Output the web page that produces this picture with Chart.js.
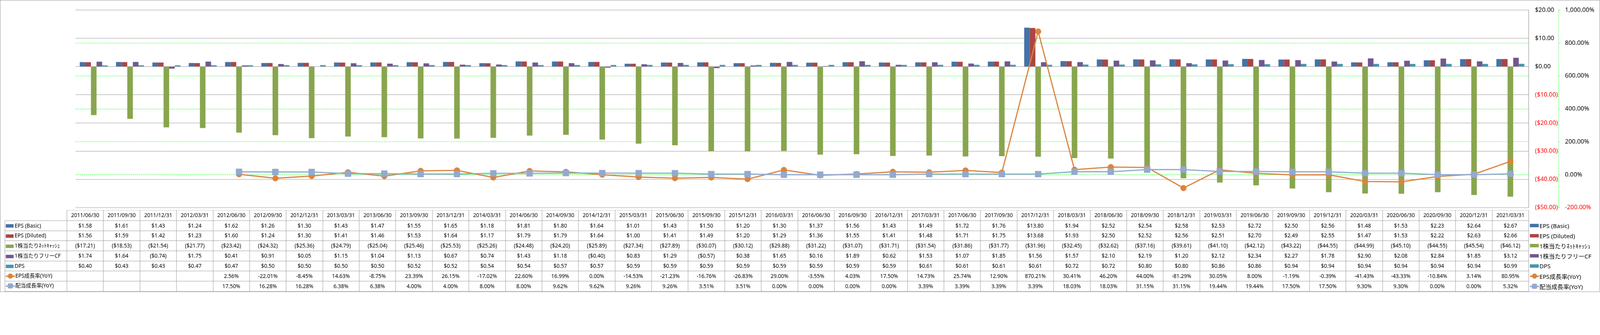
<!DOCTYPE html>
<html>
<head>
<meta charset="utf-8">
<script src="https://cdn.jsdelivr.net/npm/chart.js"></script>
<style>
  html, body { margin: 0; padding: 0; background: #fff; }
  body { overflow: hidden; font-family: "Noto Sans", "Noto Sans CJK JP", sans-serif; }
  #stage { position: absolute; left: 0; top: 0; width: 4701px; height: 858px; transform-origin: 0 0; }
  #frame { position: absolute; left: 0; top: 0; width: 4699px; height: 856px; border: 1px solid #868686; }
  #chartBox { position: absolute; left: 0; top: 0; width: 4701px; height: 640px; }
  #tbl { position: absolute; left: 14px; top: 617px; border-collapse: collapse; table-layout: fixed; font-size: 15.5px; color: #000; }
  #tbl td { border: 1px solid #8c8c8c; text-align: center; padding: 0; height: 28.7px; white-space: nowrap; overflow: hidden; line-height: 1; }
  #tbl tr.hd td { height: 30px; }
  #tbl td.lab { text-align: left; padding-left: 2px; }
  #tbl tr.hd td.lab { border-top: none; border-left: none; }
  .sw { display: inline-block; width: 23px; height: 10px; margin-right: 3px; vertical-align: middle; }
  .lk { position: relative; display: inline-block; width: 27px; height: 18px; margin-right: 1px; vertical-align: middle; }
  .lk i { position: absolute; left: 0; right: 0; top: 7px; height: 4px; }
  .lk b { position: absolute; left: 6px; top: 1px; width: 15px; height: 15px; }
  #legend { position: absolute; left: 4495px; top: 648px; font-size: 17.5px; }
  #legend div { height: 29.8px; display: flex; align-items: center; white-space: nowrap; }
  #legend .sw { width: 26px; height: 10px; margin-right: 2px; }
</style>
</head>
<body>
<div id="stage">
<div id="frame"></div>
<div id="chartBox"><canvas id="c" width="4701" height="640"></canvas></div>
<table id="tbl"></table>
<div id="legend"></div>
</div>
<script>
const quarters = ['2011/06/30','2011/09/30','2011/12/31','2012/03/31','2012/06/30','2012/09/30','2012/12/31','2013/03/31',
  '2013/06/30','2013/09/30','2013/12/31','2014/03/31','2014/06/30','2014/09/30','2014/12/31','2015/03/31',
  '2015/06/30','2015/09/30','2015/12/31','2016/03/31','2016/06/30','2016/09/30','2016/12/31','2017/03/31',
  '2017/06/30','2017/09/30','2017/12/31','2018/03/31','2018/06/30','2018/09/30','2018/12/31','2019/03/31',
  '2019/06/30','2019/09/30','2019/12/31','2020/03/31','2020/06/30','2020/09/30','2020/12/31','2021/03/31'];

const epsBasic = [1.58,1.61,1.43,1.24,1.62,1.26,1.30,1.43,1.47,1.55,1.65,1.18,1.81,1.80,1.64,1.01,
  1.43,1.50,1.20,1.30,1.37,1.56,1.43,1.49,1.72,1.76,13.80,1.94,2.52,2.54,2.58,2.53,2.72,2.50,2.56,1.48,1.53,2.23,2.64,2.67];
const epsDiluted = [1.56,1.59,1.42,1.23,1.60,1.24,1.30,1.41,1.46,1.53,1.64,1.17,1.79,1.79,1.64,1.00,
  1.41,1.49,1.20,1.29,1.36,1.55,1.41,1.48,1.71,1.75,13.68,1.93,2.50,2.52,2.56,2.51,2.70,2.49,2.55,1.47,1.53,2.22,2.63,2.66];
const netCashPerShare = [-17.21,-18.53,-21.54,-21.77,-23.42,-24.32,-25.36,-24.79,-25.04,-25.46,-25.53,-25.26,-24.48,-24.20,-25.89,-27.34,
  -27.89,-30.07,-30.12,-29.88,-31.22,-31.07,-31.71,-31.54,-31.86,-31.77,-31.96,-32.45,-32.62,-37.16,-39.61,-41.10,
  -42.12,-43.22,-44.55,-44.99,-45.10,-44.55,-45.54,-46.12];
const fcfPerShare = [1.74,1.64,-0.74,1.75,0.41,0.91,0.05,1.15,1.04,1.13,0.67,0.74,1.43,1.18,-0.40,0.83,
  1.29,-0.57,0.38,1.65,0.16,1.89,0.62,1.53,1.07,1.85,1.56,1.57,2.10,2.19,1.20,2.12,2.34,2.27,1.78,2.90,2.08,2.84,1.85,3.12];
const dps = [0.40,0.43,0.43,0.47,0.47,0.50,0.50,0.50,0.50,0.52,0.52,0.54,0.54,0.57,0.57,0.59,
  0.59,0.59,0.59,0.59,0.59,0.59,0.59,0.61,0.61,0.61,0.61,0.72,0.72,0.80,0.80,0.86,0.86,0.94,0.94,0.94,0.94,0.94,0.94,0.99];
const epsGrowth = [null,null,null,null,2.56,-22.01,-8.45,14.63,-8.75,23.39,26.15,-17.02,22.60,16.99,0.00,-14.53,
  -21.23,-16.76,-26.83,29.00,-3.55,4.03,17.50,14.73,25.74,12.90,870.21,30.41,46.20,44.00,-81.29,30.05,
  8.00,-1.19,-0.39,-41.43,-43.33,-10.84,3.14,80.95];
const divGrowth = [null,null,null,null,17.50,16.28,16.28,6.38,6.38,4.00,4.00,8.00,8.00,9.62,9.62,9.26,
  9.26,3.51,3.51,0.00,0.00,0.00,0.00,3.39,3.39,3.39,3.39,18.03,18.03,31.15,31.15,19.44,
  19.44,17.50,17.50,9.30,9.30,0.00,0.00,5.32];

const dollarTicks = { min: -50, max: 20, step: 10 };
const pctTicks = { min: -200, max: 1000, step: 200 };

const barSeries = [
  { name: 'EPS (Basic)', data: epsBasic, color: '#4572A7' },
  { name: 'EPS (Diluted)', data: epsDiluted, color: '#AA4643' },
  { name: '1株当たりﾈｯﾄｷｬｯｼｭ', data: netCashPerShare, color: '#89A54E' },
  { name: '1株当たりフリーCF', data: fcfPerShare, color: '#71588F' },
  { name: 'DPS', data: dps, color: '#4198AF' }
];
const lineSeries = [
  { name: 'EPS成長率(YoY)', data: epsGrowth, color: '#DB843D', marker: 'circle' },
  { name: '配当成長率(YoY)', data: divGrowth, color: '#93A9CF', marker: 'rect' }
];

const FONT = '"Noto Sans", "Noto Sans CJK JP", sans-serif';

// the window may be narrower than 4701, so scale the whole layout to fit
const stage = document.getElementById('stage');
const fit = Math.min(window.innerWidth / 4701, window.innerHeight / 858);
stage.style.transform = 'scale(' + fit + ')';

function fmtDollar(v) {
  const s = '$' + Math.abs(v).toFixed(2);
  return v < 0 ? '(' + s + ')' : s;
}
function fmtPct(v) {
  return v.toLocaleString('en-US', { minimumFractionDigits: 2, maximumFractionDigits: 2 }) + '%';
}

// dashed green line for the percentage axis
const pctAxisLine = {
  id: 'pctAxisLine',
  afterDraw(chart) {
    const s = chart.scales.y1;
    const c = chart.ctx;
    const x = Math.round(s.left) + 0.5;
    c.save();
    c.strokeStyle = '#00FF00';
    c.lineWidth = 1;
    c.setLineDash([4, 2]);
    c.beginPath();
    c.moveTo(x, s.top);
    c.lineTo(x, s.bottom);
    c.stroke();
    c.restore();
  }
};

const datasets = barSeries.map(s => ({
  type: 'bar', label: s.name, data: s.data, backgroundColor: s.color, yAxisID: 'y', order: 2,
  categoryPercentage: 0.77, barPercentage: 1.0, borderWidth: 0
}));
lineSeries.forEach((s, i) => {
  datasets.push({
    type: 'line', label: s.name, data: s.data, yAxisID: 'y1', order: 1 - i,
    borderColor: s.color, backgroundColor: s.color, borderWidth: 3.5,
    pointStyle: s.marker, pointRadius: s.marker === 'rect' ? 12.5 : 8.5,
    pointBorderWidth: 1, pointBorderColor: s.color, pointBackgroundColor: s.color,
    tension: 0, spanGaps: false
  });
});

new Chart(document.getElementById('c').getContext('2d'), {
  type: 'bar',
  data: { labels: quarters, datasets: datasets },
  options: {
    responsive: false,
    animation: false,
    devicePixelRatio: Math.max(1, (window.devicePixelRatio || 1) * fit),
    layout: { padding: { left: 222, top: 13, bottom: 24, right: 0 } },
    plugins: { legend: { display: false }, tooltip: { enabled: false } },
    scales: {
      x: { display: false, offset: true, grid: { display: false } },
      y: {
        position: 'right',
        min: dollarTicks.min, max: dollarTicks.max,
        ticks: {
          stepSize: dollarTicks.step, padding: 19,
          font: { family: FONT, size: 18 },
          color: c => c.tick.value < 0 ? '#FF0000' : '#000000',
          callback: v => fmtDollar(v)
        },
        grid: { color: '#868686', lineWidth: 1, drawTicks: false, z: -1 },
        border: { color: '#868686', width: 1 },
        afterFit: s => { s.width = 88; }
      },
      y1: {
        position: 'right',
        min: pctTicks.min, max: pctTicks.max,
        ticks: {
          stepSize: pctTicks.step, padding: 15,
          font: { family: FONT, size: 18 },
          color: c => c.tick.value < 0 ? '#FF0000' : '#000000',
          callback: v => fmtPct(v)
        },
        grid: {
          color: c => (c.tick && (c.tick.value === pctTicks.max || c.tick.value === pctTicks.min)) ? 'rgba(0,0,0,0)' : '#00FF00',
          tickColor: '#00FF00', tickLength: 4, lineWidth: 1, z: -2
        },
        border: { display: false, dash: [4, 2] },
        afterFit: s => { s.width = 122; }
      }
    }
  },
  plugins: [pctAxisLine]
});

// data table under the chart
function keyHtml(s, isLine) {
  if (!isLine) return '<span class="sw" style="background:' + s.color + '"></span>';
  const r = s.marker === 'circle' ? '50%' : '3px';
  return '<span class="lk"><i style="background:' + s.color + '"></i><b style="background:' + s.color + ';border-radius:' + r + '"></b></span>';
}

const tbl = document.getElementById('tbl');
let html = '<colgroup><col style="width:182px">';
quarters.forEach(() => { html += '<col style="width:107.375px">'; });
html += '</colgroup>';
html += '<tr class="hd"><td class="lab"></td>' + quarters.map(q => '<td>' + q + '</td>').join('') + '</tr>';
barSeries.forEach(s => {
  html += '<tr><td class="lab">' + keyHtml(s, false) + s.name + '</td>' +
    s.data.map(v => '<td>' + fmtDollar(v) + '</td>').join('') + '</tr>';
});
lineSeries.forEach(s => {
  html += '<tr><td class="lab">' + keyHtml(s, true) + s.name + '</td>' +
    s.data.map(v => '<td>' + (v === null ? '' : fmtPct(v)) + '</td>').join('') + '</tr>';
});
tbl.innerHTML = html;

// legend to the right of the table
const legend = document.getElementById('legend');
legend.innerHTML = barSeries.map(s => '<div>' + keyHtml(s, false) + s.name + '</div>').join('') +
  lineSeries.map(s => '<div>' + keyHtml(s, true) + s.name + '</div>').join('');
</script>
</body>
</html>
